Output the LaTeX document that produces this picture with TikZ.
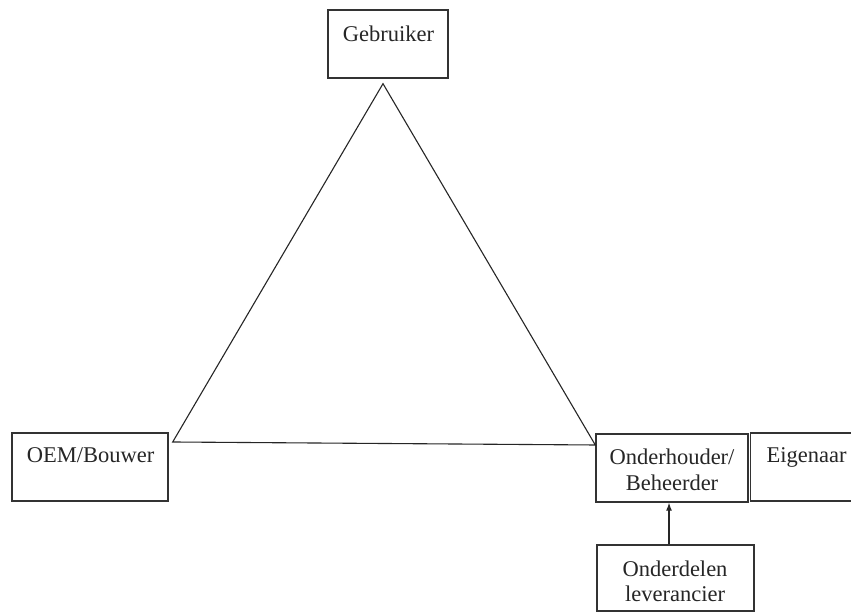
\documentclass[tikz,border=0pt]{standalone}
\usepackage{fontspec}
\setmainfont{Liberation Serif}
\usetikzlibrary{arrows.meta}
\begin{document}
\begin{tikzpicture}[x=1pt,y=1pt,
  box/.style={draw=black!80, line width=1.4pt, rectangle, inner sep=0pt},
  lbl/.style={inner sep=0pt, anchor=base, font=\fontsize{22.5}{26}\selectfont, text=black!85},
  tri/.style={draw=black!85, line width=1.1pt, line join=miter}]
\clip (0,0) rectangle (851,612);
\fill[white] (0,0) rectangle (851,612);
% boxes
\node[box, minimum width=120pt, minimum height=68pt] (geb) at (388,568) {};
\node[box, minimum width=156pt, minimum height=68pt] (oem) at (90,145) {};
\node[box, minimum width=152pt, minimum height=68pt] (oh) at (672,144) {};
\node[box, minimum width=130pt, minimum height=68pt, anchor=west] (eig) at (750,145) {};
\node[box, minimum width=157pt, minimum height=66pt] (ond) at (675.5,34) {};
% labels
\node[lbl] (tgeb) at (388.5,570) {Gebruiker};
\node[lbl] (toem) at (90.5,149) {OEM/Bouwer};
\node[lbl] (toh1) at (672,147) {Onderhouder/};
\node[lbl] (toh2) at (672,121) {Beheerder};
\node[lbl] (teig) at (806.5,149) {Eigenaar};
\node[lbl] (tond1) at (675,35) {Onderdelen};
\node[lbl] (tond2) at (675,10) {leverancier};
% triangle
\coordinate (apex) at ([xshift=-5pt,yshift=-5pt]geb.south);
\coordinate (left) at ([xshift=4pt,yshift=25pt]oem.east);
\coordinate (right) at ([yshift=23pt]oh.west);
\draw[tri] (apex) -- (left) -- (right) -- cycle;
% arrow
\draw[line width=1.1pt, draw=black!85, -{Latex[length=8pt,width=6pt]}]
  ([xshift=-6.5pt]ond.north) -- ([xshift=-6.5pt]ond.north |- oh.south);
\end{tikzpicture}
\end{document}
